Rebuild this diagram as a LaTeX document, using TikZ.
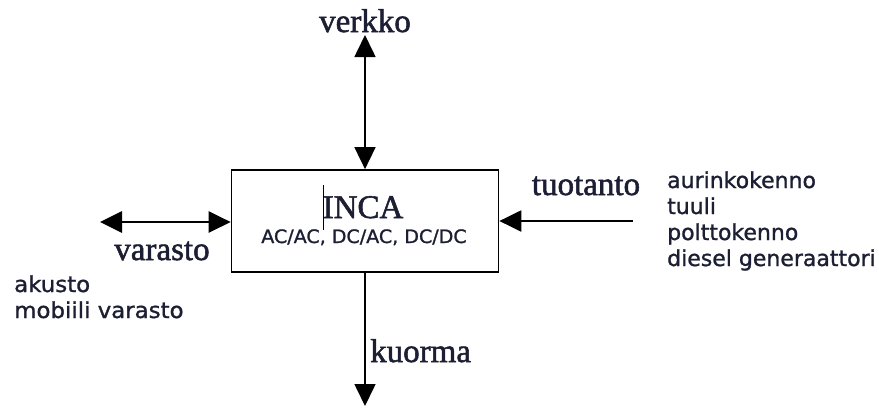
\documentclass[tikz,border=0pt]{standalone}
\usepackage{fontspec}
\setmainfont{Liberation Serif}
\newfontfamily\labelfont[FakeBold=1.6]{Liberation Serif}
\newfontfamily\listfont[FakeBold=1.2]{DejaVu Sans}
\usetikzlibrary{arrows.meta}
\definecolor{ink}{HTML}{1C1F33}
\newcommand{\wide}[2]{\scalebox{#1}[1]{#2}}
\begin{document}
\begin{tikzpicture}[x=1bp,y=-1bp,
  bigtext/.style={inner sep=0pt,text=ink,font=\labelfont\fontsize{33bp}{38bp}\selectfont},
  smalltext/.style={inner sep=0pt,text=ink,font=\listfont\fontsize{22bp}{26bp}\selectfont},
  flow/.style={line width=1.6bp,-{Triangle[length=22bp,width=21bp]}},
  flowboth/.style={line width=1.6bp,{Triangle[length=22bp,width=21bp]}-{Triangle[length=22bp,width=21bp]}},
  unit/.style={draw,line width=1.7bp,minimum width=267bp,minimum height=102bp,inner sep=0pt}]
\useasboundingbox (0,0) rectangle (879,409);

% central converter block
\node[unit] (inca) at (365,221) {};
\node[bigtext,anchor=base] (incaname) at (363,218) {INCA};
\node[smalltext,anchor=base,font=\listfont\fontsize{18.5bp}{20bp}\selectfont] (incatypes) at (364,243) {\wide{1.03}{AC/AC,\ DC/AC,\ DC/DC}};
\coordinate (cursortop) at (323,185);
\coordinate (cursorbot) at (323,230);
\draw[line width=0.9bp] (cursortop) -- (cursorbot);

% grid connection (two-way)
\node[bigtext,anchor=base] (verkko) at (365,32) {verkko};
\coordinate (gridend) at (365,35);
\draw[flowboth] (gridend) -- (inca.north);

% storage (two-way)
\coordinate (storeend) at (100,222);
\draw[flowboth,line width=2.8bp] (storeend) -- (inca.west |- storeend);
\node[bigtext,anchor=base] (varasto) at (162,260) {varasto};
\node[smalltext,anchor=base west] (akusto) at (14,292) {\wide{1.04}{akusto}};
\node[smalltext,anchor=base west] (mobiili) at (14,318) {\wide{1.04}{mobiili varasto}};

% production (in)
\coordinate (prodend) at (633,221);
\draw[flow,line width=2.2bp] (prodend) -- (inca.east |- prodend);
\node[bigtext,anchor=base] (tuotanto) at (586,195) {tuotanto};
\node[smalltext,anchor=base west] (src1) at (667,188) {aurinkokenno};
\node[smalltext,anchor=base west] (src2) at (667,214) {tuuli};
\node[smalltext,anchor=base west] (src3) at (667,240) {polttokenno};
\node[smalltext,anchor=base west] (src4) at (667,266) {diesel generaattori};

% load (out)
\coordinate (loadend) at (365,406);
\draw[flow] (inca.south) -- (loadend);
\node[bigtext,anchor=base west] (kuorma) at (370,362) {kuorma};
\end{tikzpicture}
\end{document}
